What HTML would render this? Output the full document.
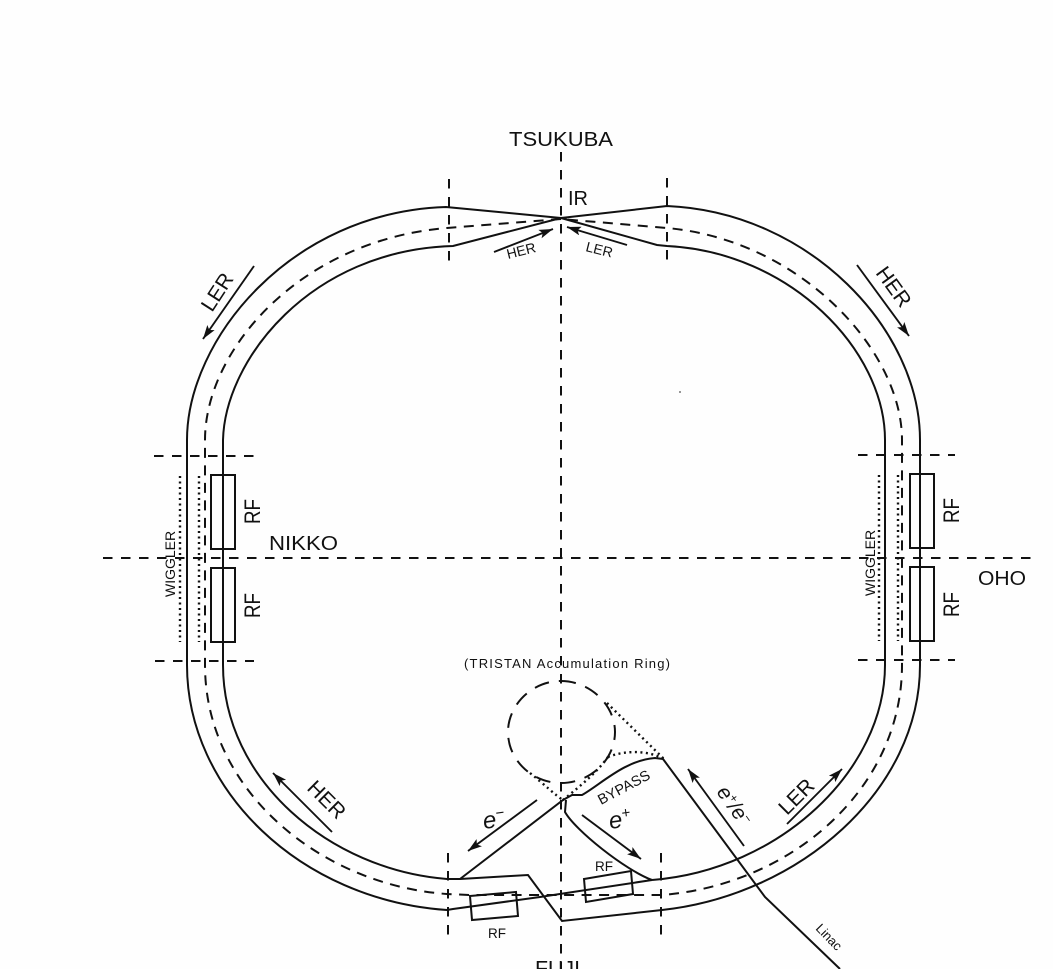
<!DOCTYPE html>
<html><head><meta charset="utf-8"><style>
html,body{margin:0;padding:0;background:#fefefe;width:1053px;height:969px;overflow:hidden}
svg{display:block;filter:blur(.35px)}
text{font-family:"Liberation Sans",sans-serif;fill:#111}
.s{fill:none;stroke:#111;stroke-width:2}
.d{fill:none;stroke:#111;stroke-width:2;stroke-dasharray:9.5 8.5}
.r{fill:none;stroke:#111;stroke-width:2;stroke-dasharray:10 7.5}
.o{fill:none;stroke:#111;stroke-width:2.4;stroke-dasharray:2 3.5}
.a{fill:none;stroke:#111;stroke-width:1.9;marker-end:url(#ah)}
</style></head><body>
<svg width="1053" height="969" viewBox="0 0 1053 969" xmlns="http://www.w3.org/2000/svg">
<defs><marker id="ah" markerUnits="userSpaceOnUse" markerWidth="16" markerHeight="12" refX="14" refY="4.5" orient="auto"><path d="M0,0 L14,4.5 L0,9 L3,4.5 Z" fill="#111"/></marker></defs>

<!-- axes -->
<path class="d" d="M103,558 H1033"/>
<path class="d" d="M561,152 V969"/>
<path class="d" d="M449,179 V266"/>
<path class="d" d="M667,178 V265"/>
<path class="d" d="M448,853 V941"/>
<path class="d" d="M661,853 V941"/>
<path class="d" d="M154,456 H254"/>
<path class="d" d="M155,661 H254"/>
<path class="d" d="M858,455 H955"/>
<path class="d" d="M858,660 H955"/>

<!-- outer ring -->
<path class="s" d="M561,218 L446,207 C290,212 187,340 187,440 V665 C187,790 300,900 447,910 L453,909 L540,897 L652,880"/>
<path class="s" d="M561,218 L667,206 C810,212 920,330 920,440 V665 C920,790 800,895 662,910 L562,921 L528,875 L460,879 L447,879 C330,870 223,780 223,665 V440 C225,360 310,250 453,246 L561,218"/>
<path class="s" d="M561,218 L657,245 L667,246 C790,252 885,350 885,440 V665 C885,770 780,870 652,880"/>
<!-- centre dashed -->
<path class="r" d="M561,219 L447,228 C300,240 205,350 205,440 V665 C205,790 320,885 447,894 L470,895 L600,895 L662,895 C790,885 902,790 902,665 V440 C902,350 800,240 667,228 Z"/>

<!-- bypass -->
<path class="s" d="M460,879 L563,800 L572,795 L582,795 C600,785 625,760 655,758 L663,759 L765,897 L840,969"/>
<path class="s" d="M566,800 L565,812 C575,830 625,870 652,880"/>

<!-- accumulation ring -->
<path class="d" d="M561,681 C590,681 615,705 615,732 C615,760 590,783 561,783 C532,783 508,760 508,732 C508,705 532,681 561,681 Z" style="stroke-dasharray:15 10"/>
<path class="o" d="M607,703 L665,760"/>
<path class="o" d="M608,757 C625,750 650,750 665,760"/>
<path class="o" d="M530,773 C545,785 555,795 563,800"/>
<path class="o" d="M563,800 C575,790 595,775 608,757"/>

<!-- RF boxes -->
<path class="s" d="M211,475 H235 V549 H211 Z M211,568 H235 V642 H211 Z"/>
<path class="s" d="M910,474 H934 V548 H910 Z M910,567 H934 V641 H910 Z"/>
<path class="s" d="M470,896 L516,892 L518,916 L472,920 Z"/>
<path class="s" d="M584,879 L631,871 L633,894 L586,902 Z"/>

<!-- wiggler dots -->
<path class="o" d="M180,476 V642 M199,476 V642"/>
<path class="o" d="M879,475 V641 M898,475 V641"/>

<!-- arrows -->
<path class="a" d="M254,266 L203,339"/>
<path class="a" d="M857,265 L909,336"/>
<path class="a" d="M332,832 L273,773"/>
<path class="a" d="M787,824 L842,769"/>
<path class="a" d="M744,846 L688,769"/>
<path class="a" d="M494,252 L553,229"/>
<path class="a" d="M627,245 L567,227"/>
<path class="a" d="M537,800 L468,851"/>
<path class="a" d="M582,815 L641,859"/>

<!-- labels -->
<text x="509" y="146" font-size="20" textLength="104" lengthAdjust="spacingAndGlyphs">TSUKUBA</text>
<text x="568" y="205" font-size="20">IR</text>
<text x="269" y="550" font-size="20" textLength="69" lengthAdjust="spacingAndGlyphs">NIKKO</text>
<text x="978" y="585" font-size="20" textLength="48" lengthAdjust="spacingAndGlyphs">OHO</text>
<text x="535" y="975" font-size="20" textLength="45" lengthAdjust="spacingAndGlyphs">FUJI</text>
<text x="464" y="668" font-size="13" textLength="206" lengthAdjust="spacing">(TRISTAN Accumulation Ring)</text>
<text font-size="22" textLength="25" lengthAdjust="spacingAndGlyphs" transform="translate(260,524) rotate(-90)">RF</text>
<text font-size="22" textLength="25" lengthAdjust="spacingAndGlyphs" transform="translate(260,618) rotate(-90)">RF</text>
<text font-size="22" textLength="25" lengthAdjust="spacingAndGlyphs" transform="translate(959,523) rotate(-90)">RF</text>
<text font-size="22" textLength="25" lengthAdjust="spacingAndGlyphs" transform="translate(959,617) rotate(-90)">RF</text>
<text font-size="14" transform="translate(175,597) rotate(-90)">WIGGLER</text>
<text font-size="14" transform="translate(875,596) rotate(-90)">WIGGLER</text>
<text font-size="21" transform="translate(212,313) rotate(-57)">LER</text>
<text font-size="21" transform="translate(875,273) rotate(54)">HER</text>
<text font-size="21" transform="translate(306,789) rotate(45)">HER</text>
<text font-size="21" transform="translate(787,816) rotate(-45)">LER</text>
<text font-size="14" transform="translate(508,259) rotate(-14)">HER</text>
<text font-size="14" transform="translate(585,251) rotate(14)">LER</text>
<text font-size="14.5" transform="translate(601,805) rotate(-28)">BYPASS</text>
<text font-size="13.5" x="595" y="871">RF</text>
<text font-size="13.5" x="488" y="938">RF</text>
<text font-size="13" transform="translate(815,929) rotate(46)">Linac</text>
<text font-size="24" font-style="italic" transform="translate(484,829) rotate(-8)">e<tspan font-size="15" dy="-9">−</tspan></text>
<text font-size="24" font-style="italic" transform="translate(610,829) rotate(-8)">e<tspan font-size="15" dy="-9">+</tspan></text>
<text font-size="21" font-style="italic" transform="translate(716,792) rotate(55)">e<tspan font-size="12" dy="-7">+</tspan><tspan dy="7">/e</tspan><tspan font-size="12" dy="-7">−</tspan></text>
<circle cx="680" cy="392" r="1" fill="#777"/>
</svg>
</body></html>
